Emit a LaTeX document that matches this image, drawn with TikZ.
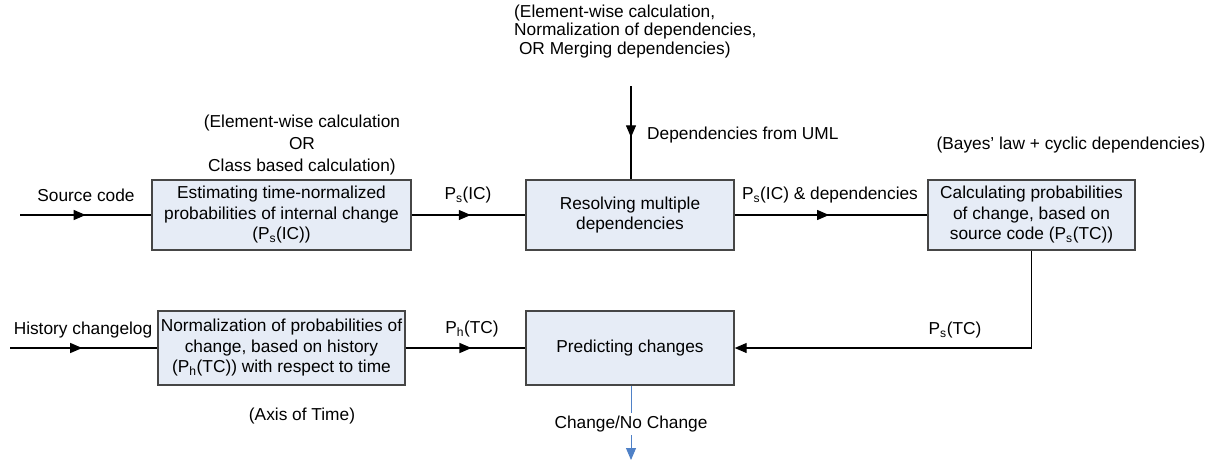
\documentclass[tikz,border=0pt]{standalone}
\usepackage{fontspec}
\setmainfont{Liberation Sans}
\usetikzlibrary{arrows.meta,decorations.markings}
\definecolor{boxfill}{RGB}{230,236,246}
\definecolor{boxline}{RGB}{70,70,70}
\definecolor{outblue}{RGB}{79,129,199}
\newcommand{\Psub}[1]{P\textsubscript{#1}}
\tikzset{
  every node/.style={font=\fontsize{17.3}{20.5}\selectfont, inner sep=0pt},
  procbox/.style={draw=boxline, line width=1.4pt, fill=boxfill, align=center},
  conn/.style={line width=1.2pt, black},
  midarrow/.style={decoration={markings, mark=at position #1 with {\arrow{Triangle[length=12pt,width=10pt]}}}, postaction={decorate}},
  midarrow/.default=0.5,
  lbl/.style={align=center},
  note/.style={align=center, font=\fontsize{17.3}{22}\selectfont}
}
\begin{document}
\begin{tikzpicture}[x=1pt,y=-1pt]
\useasboundingbox (0,0) rectangle (1217,461);
% boxes
\node[procbox, minimum width=259pt, minimum height=70pt] (est) at (281.5,215)
  {Estimating time-normalized\\probabilities of internal change\\(\Psub{s}(IC))};
\node[procbox, minimum width=208pt, minimum height=70pt] (res) at (630,215)
  {Resolving multiple\\dependencies};
\node[procbox, minimum width=207pt, minimum height=70pt] (calc) at (1031.5,215)
  {Calculating probabilities\\of change, based on\\source code (\Psub{s}(TC))};
\node[procbox, minimum width=247pt, minimum height=74pt] (norm) at (281.5,348)
  {Normalization of probabilities of\\change, based on history\\(\Psub{h}(TC)) with respect to time};
\node[procbox, minimum width=208pt, minimum height=74pt] (pred) at (630,348)
  {Predicting changes};
% free ends
\coordinate (src) at (20,215);
\coordinate (hist) at (10,348);
\coordinate (uml) at (631,86);
\coordinate (out) at (631,460);
% connectors
\draw[conn, midarrow=0.5] (src) -- (est.west);
\draw[conn, midarrow=0.52] (est.east) -- (res.west);
\draw[conn, midarrow=0.49] (res.east) -- (calc.west);
\draw[conn, midarrow=0.55] (uml) -- (uml |- res.north);
\draw[conn, midarrow=0.49] (hist) -- (norm.west);
\draw[conn, midarrow=0.55] (norm.east) -- (pred.west);
\draw[conn, -{Triangle[length=12pt,width=10pt]}] (calc.south) |- (pred.east);
\draw[line width=1pt, outblue, -{Triangle[length=12pt,width=10pt]}] (pred.south -| out) -- (out);
% labels
\node[lbl] (lsrc) at (86,195) {Source code};
\node[lbl] (lpsic) at (468,195) {\Psub{s}(IC)};
\node[lbl] (lpsicd) at (830,195) {\Psub{s}(IC) \& dependencies};
\node[lbl, anchor=west] (luml) at (647,135) {Dependencies from UML};
\node[lbl] (lhist) at (83,330) {History changelog};
\node[lbl] (lphtc) at (472,329) {\Psub{h}(TC)};
\node[lbl] (lpstc) at (955,330) {\Psub{s}(TC)};
\node[lbl, fill=white, inner ysep=3pt] (lchg) at (631,424) {Change/No Change};
% notes
\node[note] (nest) at (302,145) {(Element-wise calculation\\OR\\Class based calculation)};
\node[note] (nbayes) at (1071,145) {(Bayes' law + cyclic dependencies)};
\node[note] (naxis) at (302,416) {(Axis of Time)};
\node[align=left, anchor=west, font=\fontsize{17.3}{18.5}\selectfont] (nres) at (514,31.5)
  {(Element-wise calculation,\\Normalization of dependencies,\\\ OR Merging dependencies)};
\end{tikzpicture}
\end{document}
